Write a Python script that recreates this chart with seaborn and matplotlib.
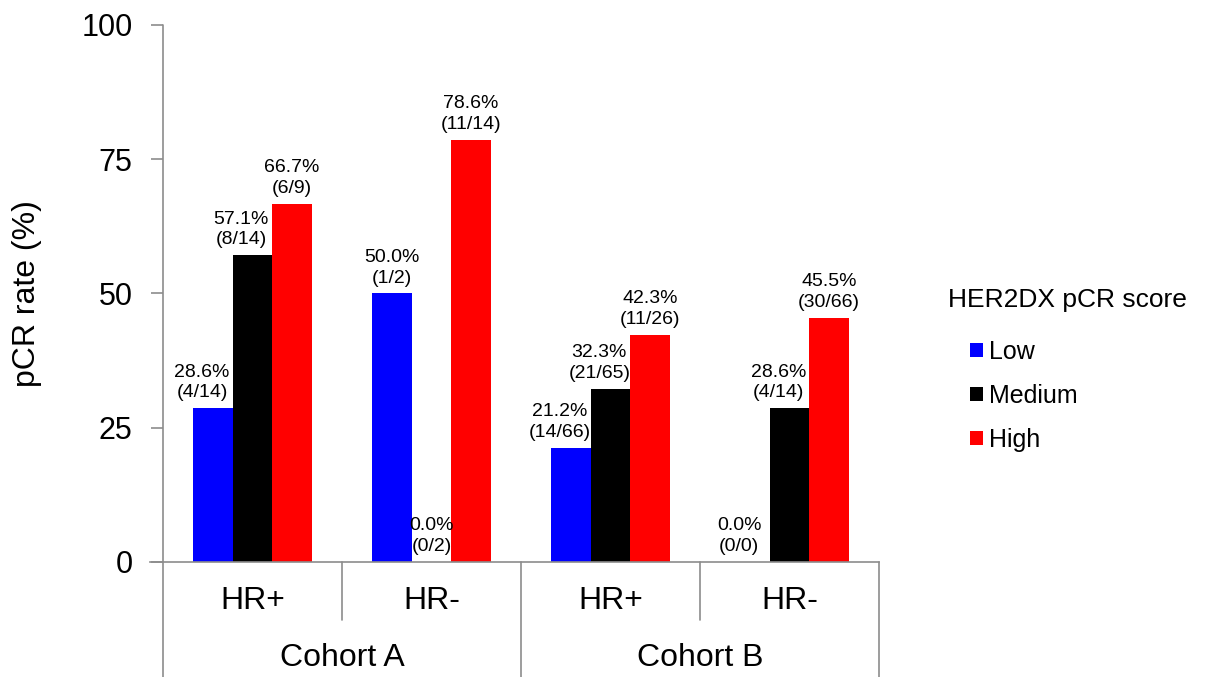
import pandas as pd
import matplotlib
matplotlib.use("Agg")
import matplotlib.pyplot as plt
import matplotlib.transforms as mtransforms
import seaborn as sns

# chart data
groups = ["A HR+", "A HR-", "B HR+", "B HR-"]
subgroup_labels = ["HR+", "HR-", "HR+", "HR-"]
cohort_labels = ["Cohort A", "Cohort B"]
levels = ["Low", "Medium", "High"]
low_rate = [28.6, 50.0, 21.2, 0.0]
medium_rate = [57.1, 0.0, 32.3, 28.6]
high_rate = [66.7, 78.6, 42.3, 45.5]
low_counts = ["(4/14)", "(1/2)", "(14/66)", "(0/0)"]
medium_counts = ["(8/14)", "(0/2)", "(21/65)", "(4/14)"]
high_counts = ["(6/9)", "(11/14)", "(11/26)", "(30/66)"]
yticks = [0, 25, 50, 75, 100]

colors = {"Low": "#0000FF", "Medium": "#000000", "High": "#FF0000"}
grey = "#8C8C8C"

# long table for seaborn
df = pd.DataFrame({
    "group": groups * 3,
    "score": ["Low"] * 4 + ["Medium"] * 4 + ["High"] * 4,
    "rate": low_rate + medium_rate + high_rate,
    "count": low_counts + medium_counts + high_counts,
})

sns.set_theme(style="ticks")
plt.rcParams["font.family"] = ["Liberation Sans", "DejaVu Sans"]
plt.rcParams["text.color"] = "black"
plt.rcParams["axes.labelcolor"] = "black"
plt.rcParams["ytick.labelcolor"] = "black"

fig = plt.figure(figsize=(12.18, 6.77), dpi=100)
ax = fig.add_axes([0.1338, 0.1699, 0.7217 - 0.1338, 0.9631 - 0.1699])

sns.barplot(data=df, x="group", y="rate", hue="score", order=groups,
            hue_order=levels, palette=colors, saturation=1, width=0.66,
            linewidth=0, ax=ax)

# value labels above each bar (nudged left when the next bar is taller)
rates = [low_rate, medium_rate, high_rate]
for k, (level, container) in enumerate(zip(levels, ax.containers)):
    sub = df[df["score"] == level].set_index("group").loc[groups]
    for i, (bar, rate, cnt) in enumerate(zip(container, sub["rate"],
                                              sub["count"])):
        dx = 0
        if k < 2 and rates[k + 1][i] > rate and not (k == 1 and rate == 0):
            dx = -8
        ax.annotate(f"{rate:.1f}%\n{cnt}",
                    (bar.get_x() + bar.get_width() / 2, bar.get_height()),
                    xytext=(dx, 5), textcoords="offset points",
                    ha="center", va="bottom", fontsize=14,
                    multialignment="center", linespacing=1.3)

ax.set_ylim(0, 100)
ax.set_xlim(-0.5, 3.5)
ax.set_yticks(yticks)
ax.set_yticklabels([str(t) for t in yticks], fontsize=22)
ax.tick_params(axis="y", length=9, width=1.2, color=grey, pad=13)
ax.set_xticks([])
ax.set_xlabel("")
ax.set_ylabel("pCR rate (%)", fontsize=23)
ax.yaxis.set_label_coords(-0.169, 0.5)

for side in ["top", "right"]:
    ax.spines[side].set_visible(False)
ax.spines["left"].set_visible(False)
ax.spines["bottom"].set_color(grey)
ax.spines["bottom"].set_linewidth(1.2)
ax.spines["bottom"].set_bounds(-0.57, 3.5)

# hierarchical category axis
trans = mtransforms.blended_transform_factory(ax.transData, ax.transAxes)
for x in [-0.5, 1.5, 3.5]:
    ax.plot([x, x], [1.0 if x == -0.5 else 0, -0.214], color=grey, lw=1.2,
            transform=trans, clip_on=False)
for x in [0.5, 2.5]:
    ax.plot([x, x], [0, -0.108], color=grey, lw=1.2,
            transform=trans, clip_on=False)
for i, lab in enumerate(subgroup_labels):
    ax.text(i, -0.0726, lab, transform=trans, ha="center", va="center",
            fontsize=23)
for i, lab in enumerate(cohort_labels):
    ax.text(0.5 + 2 * i, -0.179, lab, transform=trans, ha="center",
            va="center", fontsize=23)

# legend
handles, labels = ax.get_legend_handles_labels()
ax.get_legend().remove()
fig.text(948 / 1218, 1 - 300 / 677, "HER2DX pCR score", fontsize=19,
         ha="left", va="center")
fig.legend(handles, labels, loc="upper left",
           bbox_to_anchor=(970 / 1218, 1 - 340 / 677), frameon=False,
           fontsize=18, handlelength=0.5, handleheight=0.5,
           handletextpad=0.25, labelspacing=0.8, borderpad=0,
           borderaxespad=0)

fig.savefig("out.png", dpi=100)
